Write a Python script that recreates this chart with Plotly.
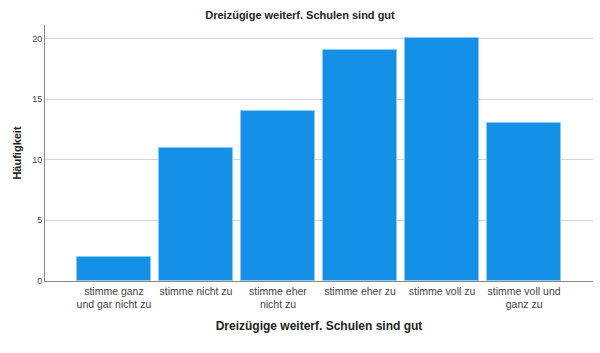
import plotly.graph_objects as go

categories = ["stimme ganz<br>und gar nicht zu", "stimme nicht zu", "stimme eher<br>nicht zu",
              "stimme eher zu", "stimme voll zu", "stimme voll und<br>ganz zu"]
counts = [2, 11, 14, 19, 20, 13]
y_ticks = [0, 5, 10, 15, 20]

fig = go.Figure(go.Bar(
    x=list(range(len(categories))), y=counts, width=0.9,
    marker=dict(color="#1491E6", line=dict(color="#8CCBF3", width=1)),
))
fig.update_layout(
    width=600, height=353,
    margin=dict(l=45, r=7, t=25, b=72),
    paper_bgcolor="white", plot_bgcolor="white",
    font=dict(family="Liberation Sans, Arial", color="#333333"),
    title=dict(text="<b>Dreizügige weiterf. Schulen sind gut</b>", x=0.5, xanchor="center",
               y=0.957, yanchor="middle", font=dict(size=11, color="#222222")),
    showlegend=False, bargap=0,
)
fig.update_xaxes(
    range=[-0.84, 5.84], tickvals=list(range(len(categories))), ticktext=categories,
    tickfont=dict(size=10.5, color="#444444"), showgrid=False, showline=True,
    linecolor="#888888", linewidth=1, ticks="", zeroline=False,
    title=dict(text="<b>Dreizügige weiterf. Schulen sind gut</b>", font=dict(size=12, color="#222222"),
               standoff=12),
)
fig.update_yaxes(
    range=[0, 21.1], tickvals=y_ticks, tickfont=dict(size=9, color="#444444"),
    showgrid=True, gridcolor="#D4D4D4", gridwidth=1, showline=True, linecolor="#888888",
    linewidth=1, ticks="", zeroline=False,
    title=dict(text="<b>Häufigkeit</b>", font=dict(size=11, color="#222222"), standoff=8),
)
fig.write_html("out.html")
